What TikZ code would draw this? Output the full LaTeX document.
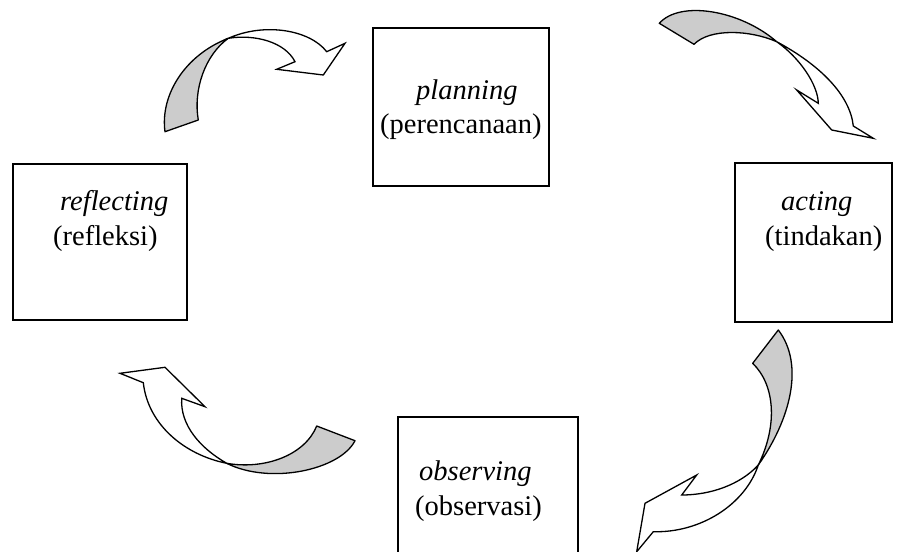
\documentclass[tikz,border=0pt]{standalone}
\usepackage{fontspec}
\setmainfont{Liberation Serif}
\definecolor{backgray}{RGB}{204,204,204}
\tikzset{
  stagebox/.style={draw=black, line width=1.3pt, fill=none},
  lbl/.style={anchor=base west, inner sep=0pt, font=\fontsize{28.5}{34}\selectfont},
  backside/.style={draw=black, fill=backgray, line width=1.3pt, line join=round},
  frontside/.style={draw=black, fill=white, line width=1.3pt, line join=miter},
}
\begin{document}
\begin{tikzpicture}[x=1pt,y=-1pt]
\useasboundingbox (0,0) rectangle (906,552);
\clip (0,0) rectangle (906,552);

% boxes
\draw[stagebox] (373,28) rectangle (549,186);
\draw[stagebox] (13,164) rectangle (187,320);
\draw[stagebox] (735,163) rectangle (892,322);
\draw[stagebox] (398,417) rectangle (578,560);

% labels
\node[lbl] (plan1) at (416,99) {\itshape planning};
\node[lbl] (plan2) at (380,133) {(perencanaan)};
\node[lbl] (refl1) at (60,210) {\itshape reflecting};
\node[lbl] (refl2) at (53,245) {(refleksi)};
\node[lbl] (act1) at (781,210) {\itshape acting};
\node[lbl] (act2) at (765,245) {(tindakan)};
\node[lbl] (obs1) at (419,480) {\itshape observing};
\node[lbl] (obs2) at (415,515) {(observasi)};

% arrow 1 (reflecting -> planning)
\coordinate (xa) at (228.3,38.3);
\draw[backside] (165,131.7) -- (198.3,120) .. controls (193,90) and (205,55) .. (xa)
  .. controls (185,55) and (160,95) .. (165,131.7) -- cycle;
\draw[frontside] (xa) .. controls (265,22) and (310,30) .. (326.7,51.7) -- (345,43.3)
  -- (323.3,75) -- (276.7,69.3) -- (295,61.7) .. controls (285,42) and (255,34) .. (xa) -- cycle;

% arrow 2 (planning -> acting)
\coordinate (xb) at (776.7,41.7);
\draw[backside] (659.3,23.3) -- (694,44.3) .. controls (710,28) and (750,30) .. (xb)
  .. controls (740,10) and (680,0) .. (659.3,23.3) -- cycle;
\draw[frontside] (xb) .. controls (800,58) and (818,85) .. (818.3,103.3) -- (796.7,90)
  -- (831.7,130) -- (873.3,138.3) -- (853.3,126) .. controls (850,95) and (820,65) .. (xb) -- cycle;

% arrow 3 (acting -> observing)
\coordinate (xc) at (758.3,465);
\draw[backside] (778.3,330) -- (752.7,363.3) .. controls (775,385) and (778,425) .. (xc)
  .. controls (790,420) and (805,365) .. (778.3,330) -- cycle;
\draw[frontside] (xc) .. controls (740,485) and (710,495) .. (681.7,495) -- (696.7,475)
  -- (645,503.3) -- (636.7,551.7) -- (653.3,531.7) .. controls (700,533) and (745,505) .. (xc) -- cycle;

% arrow 4 (observing -> reflecting)
\coordinate (xd) at (226.7,463.3);
\draw[backside] (316.7,426) -- (355,440.7) .. controls (340,470) and (270,485) .. (xd)
  .. controls (265,470) and (305,455) .. (316.7,426) -- cycle;
\draw[frontside] (xd) .. controls (200,448) and (180,425) .. (181.7,398.3) -- (205,406.7)
  -- (165,367.3) -- (120,373.3) -- (143.3,382.7) .. controls (148,425) and (185,455) .. (xd) -- cycle;
\end{tikzpicture}
\end{document}
